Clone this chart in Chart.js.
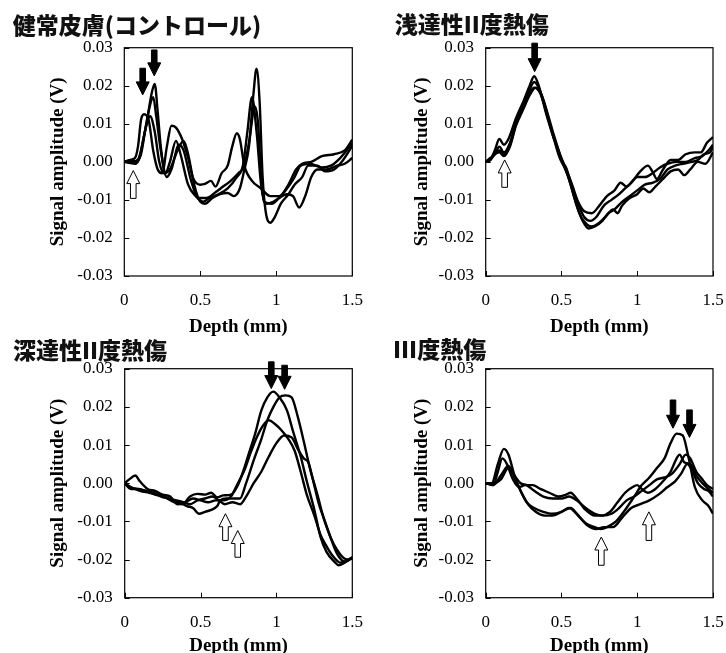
<!DOCTYPE html>
<html>
<head>
<meta charset="utf-8">
<script src="https://cdn.jsdelivr.net/npm/chart.js@4.4.0/dist/chart.umd.min.js"></script>
<style>
html, body { margin: 0; padding: 0; background: #fff; width: 726px; height: 653px; overflow: hidden; }
canvas { position: absolute; }
</style>
</head>
<body>
<canvas id="c1" width="363" height="340" style="left:0px;top:0px"></canvas>
<canvas id="c2" width="363" height="340" style="left:363px;top:0px"></canvas>
<canvas id="c3" width="363" height="340" style="left:0px;top:321px"></canvas>
<canvas id="c4" width="363" height="340" style="left:363px;top:321px"></canvas>
<script>
// tick values shared by all four panels
const depthTicks = [0, 0.5, 1, 1.5]
const ampTicks = [-0.03, -0.02, -0.01, 0, 0.01, 0.02, 0.03]
const panelTitles = ['健常皮膚(コントロール)', '浅達性II度熱傷', '深達性II度熱傷', 'III度熱傷']

// 健常皮膚 (control) : [depth mm, amplitude V]
const ctrlA = [[0,0],[0.05,0.0005],[0.08,0],[0.11,0.003],[0.15,0.011],[0.18,0.018],[0.2,0.0205],[0.22,0.013],[0.24,0.004],[0.27,-0.003],[0.3,0],[0.34,0.0055],[0.37,0.002],[0.42,-0.006],[0.47,-0.009],[0.52,-0.0105],[0.56,-0.0095],[0.62,-0.0085],[0.68,-0.007],[0.74,-0.004],[0.78,-0.001],[0.81,0.008],[0.84,0.017],[0.87,0.008],[0.9,-0.006],[0.93,-0.011],[0.98,-0.0105],[1.03,-0.009],[1.08,-0.006],[1.13,-0.002],[1.17,-0.0005],[1.23,0],[1.3,0.0015],[1.38,0.002],[1.45,0.003],[1.5,0.0058]]
const ctrlB = [[0,0],[0.04,0.0005],[0.07,0.001],[0.09,0.004],[0.11,0.011],[0.13,0.0125],[0.16,0.011],[0.19,0.003],[0.22,-0.002],[0.25,-0.003],[0.28,0.004],[0.31,0.0095],[0.34,0.009],[0.38,0.006],[0.42,0.001],[0.45,-0.004],[0.5,-0.006],[0.53,-0.0058],[0.57,-0.005],[0.6,-0.0065],[0.64,-0.003],[0.68,-0.001],[0.71,0.004],[0.74,0.0075],[0.76,0.006],[0.79,-0.001],[0.84,-0.005],[0.9,-0.007],[0.96,-0.009],[1.02,-0.009],[1.07,-0.007],[1.12,-0.004],[1.16,-0.001],[1.22,-0.0005],[1.3,-0.0015],[1.36,-0.001],[1.42,0.001],[1.5,0.0048]]
const ctrlC = [[0,0],[0.04,-0.0003],[0.07,-0.0005],[0.1,0.001],[0.13,0.007],[0.17,0.012],[0.2,0.008],[0.23,0],[0.26,-0.003],[0.3,-0.002],[0.35,0.003],[0.39,0.0055],[0.42,0.002],[0.46,-0.006],[0.5,-0.0105],[0.53,-0.011],[0.58,-0.0095],[0.63,-0.0085],[0.68,-0.0082],[0.72,-0.009],[0.76,-0.007],[0.79,-0.002],[0.82,0.004],[0.85,0.018],[0.87,0.0245],[0.89,0.016],[0.91,-0.004],[0.93,-0.013],[0.96,-0.016],[0.99,-0.0145],[1.03,-0.011],[1.08,-0.0085],[1.12,-0.006],[1.17,-0.004],[1.21,-0.001],[1.27,-0.001],[1.32,-0.0025],[1.38,-0.002],[1.44,0.0005],[1.5,0.0042]]
const ctrlD = [[0,0],[0.05,0],[0.08,0.0003],[0.11,0.002],[0.14,0.009],[0.17,0.015],[0.19,0.017],[0.21,0.012],[0.24,0.003],[0.28,-0.004],[0.31,-0.002],[0.36,0.0045],[0.39,0.003],[0.44,-0.005],[0.49,-0.0095],[0.54,-0.0095],[0.6,-0.008],[0.65,-0.0065],[0.7,-0.005],[0.75,-0.003],[0.79,-0.001],[0.82,0.005],[0.86,0.0145],[0.88,0.01],[0.9,-0.004],[0.92,-0.0105],[0.97,-0.011],[1.02,-0.0095],[1.07,-0.0085],[1.11,-0.009],[1.15,-0.012],[1.19,-0.009],[1.23,-0.004],[1.27,-0.002],[1.33,-0.002],[1.4,-0.001],[1.45,-0.0005],[1.5,0.001]]

// 浅達性II度熱傷
const sdbA = [[0,0],[0.03,0.0005],[0.06,0.003],[0.09,0.006],[0.12,0.0045],[0.15,0.006],[0.2,0.0115],[0.25,0.016],[0.29,0.02],[0.32,0.0225],[0.35,0.02],[0.4,0.0125],[0.45,0.006],[0.48,0.002],[0.5,0],[0.53,-0.002],[0.57,-0.006],[0.61,-0.0105],[0.65,-0.013],[0.7,-0.0135],[0.75,-0.0115],[0.8,-0.009],[0.85,-0.0075],[0.89,-0.0055],[0.93,-0.0065],[0.97,-0.005],[1.02,-0.0025],[1.07,-0.001],[1.1,-0.0025],[1.13,-0.0045],[1.17,-0.002],[1.22,0.0005],[1.27,0.0005],[1.32,0.002],[1.38,0.0025],[1.42,0.0025],[1.46,0.005],[1.5,0.0065]]
const sdbB = [[0,0],[0.03,0.001],[0.06,0.002],[0.09,0.004],[0.12,0.0025],[0.16,0.005],[0.2,0.0105],[0.24,0.0145],[0.28,0.018],[0.32,0.021],[0.36,0.0185],[0.4,0.013],[0.44,0.0075],[0.47,0.004],[0.5,0.0005],[0.53,-0.0015],[0.57,-0.0065],[0.61,-0.011],[0.65,-0.0145],[0.69,-0.0155],[0.73,-0.0145],[0.78,-0.0115],[0.83,-0.01],[0.88,-0.0085],[0.92,-0.007],[0.96,-0.0055],[1.0,-0.004],[1.05,-0.004],[1.1,-0.003],[1.15,-0.0015],[1.2,-0.0005],[1.26,0],[1.32,0],[1.38,0.001],[1.43,0.0015],[1.47,0.003],[1.5,0.0045]]
const sdbC = [[0,0],[0.03,0.0005],[0.06,0.0025],[0.09,0.003],[0.12,0.002],[0.16,0.0045],[0.2,0.01],[0.25,0.0145],[0.29,0.018],[0.32,0.0195],[0.36,0.018],[0.4,0.0135],[0.44,0.0075],[0.48,0.003],[0.51,-0.0005],[0.55,-0.0045],[0.59,-0.01],[0.63,-0.0145],[0.67,-0.0165],[0.7,-0.017],[0.75,-0.016],[0.8,-0.014],[0.84,-0.0125],[0.87,-0.0135],[0.9,-0.0115],[0.95,-0.0095],[1.0,-0.0085],[1.04,-0.007],[1.08,-0.008],[1.12,-0.0065],[1.17,-0.0045],[1.22,-0.0025],[1.27,-0.002],[1.31,-0.0035],[1.35,-0.002],[1.4,0],[1.45,-0.0005],[1.5,0.0025]]
const sdbD = [[0,0],[0.03,0.0005],[0.06,0.002],[0.09,0.0025],[0.12,0.0015],[0.16,0.004],[0.2,0.0095],[0.25,0.014],[0.29,0.0175],[0.33,0.0195],[0.37,0.0175],[0.41,0.0125],[0.45,0.007],[0.49,0.002],[0.52,-0.001],[0.56,-0.006],[0.6,-0.0115],[0.64,-0.0155],[0.68,-0.0175],[0.72,-0.017],[0.77,-0.0155],[0.81,-0.0135],[0.85,-0.0125],[0.9,-0.0105],[0.95,-0.009],[1.0,-0.0075],[1.05,-0.006],[1.1,-0.0055],[1.15,-0.0045],[1.2,-0.002],[1.25,-0.001],[1.3,-0.0005],[1.36,0],[1.4,0.0005],[1.44,0.002],[1.48,0.0025],[1.5,0.004]]

// 深達性II度熱傷
const ddbA = [[0,0],[0.04,-0.001],[0.1,-0.002],[0.16,-0.0025],[0.22,-0.003],[0.28,-0.004],[0.33,-0.005],[0.38,-0.0055],[0.43,-0.0035],[0.48,-0.0028],[0.53,-0.003],[0.57,-0.0025],[0.61,-0.0037],[0.65,-0.0032],[0.7,-0.003],[0.74,-0.001],[0.78,0.003],[0.82,0.008],[0.86,0.013],[0.9,0.019],[0.94,0.0225],[0.98,0.024],[1.02,0.0225],[1.07,0.019],[1.11,0.0135],[1.16,0.007],[1.2,0.0005],[1.25,-0.007],[1.29,-0.014],[1.33,-0.018],[1.38,-0.0205],[1.41,-0.0215],[1.45,-0.0208],[1.5,-0.0195]]
const ddbB = [[0,0],[0.03,-0.001],[0.08,-0.0015],[0.14,-0.002],[0.2,-0.003],[0.26,-0.0035],[0.31,-0.0045],[0.36,-0.005],[0.41,-0.006],[0.45,-0.0065],[0.49,-0.008],[0.53,-0.0075],[0.57,-0.007],[0.61,-0.006],[0.63,-0.0045],[0.67,-0.004],[0.72,-0.004],[0.76,-0.004],[0.8,0],[0.85,0.006],[0.9,0.0115],[0.94,0.0165],[0.98,0.02],[1.02,0.0225],[1.06,0.023],[1.1,0.0225],[1.14,0.0175],[1.18,0.011],[1.22,0.004],[1.27,-0.003],[1.31,-0.009],[1.35,-0.0135],[1.4,-0.0185],[1.45,-0.0205],[1.5,-0.0195]]
const ddbC = [[0,0],[0.03,0.001],[0.07,0.002],[0.1,0.0005],[0.15,-0.0015],[0.2,-0.002],[0.25,-0.003],[0.3,-0.0035],[0.35,-0.0055],[0.4,-0.005],[0.45,-0.004],[0.5,-0.0045],[0.55,-0.005],[0.6,-0.0045],[0.65,-0.0045],[0.7,-0.0035],[0.74,-0.0005],[0.79,0.0035],[0.83,0.008],[0.87,0.012],[0.91,0.015],[0.95,0.0165],[0.99,0.0155],[1.03,0.014],[1.08,0.0115],[1.12,0.0085],[1.16,0.003],[1.2,-0.003],[1.25,-0.0085],[1.29,-0.0135],[1.33,-0.0165],[1.37,-0.019],[1.42,-0.0208],[1.46,-0.0205],[1.5,-0.0195]]
const ddbD = [[0,0],[0.04,-0.0015],[0.09,-0.0015],[0.14,-0.002],[0.19,-0.0025],[0.24,-0.0035],[0.29,-0.004],[0.34,-0.0045],[0.39,-0.005],[0.43,-0.0055],[0.48,-0.0045],[0.53,-0.004],[0.58,-0.0035],[0.62,-0.0045],[0.66,-0.0055],[0.71,-0.005],[0.76,-0.0055],[0.8,-0.0035],[0.85,0],[0.9,0.003],[0.95,0.007],[1.0,0.0105],[1.05,0.0125],[1.1,0.012],[1.14,0.009],[1.18,0.0065],[1.21,0.0055],[1.24,0.001],[1.28,-0.0055],[1.32,-0.01],[1.36,-0.0145],[1.4,-0.0175],[1.44,-0.0195],[1.47,-0.02],[1.5,-0.0195]]

// III度熱傷
const fullA = [[0,0],[0.04,0],[0.08,0.005],[0.12,0.009],[0.15,0.0075],[0.19,0.002],[0.23,-0.002],[0.27,-0.005],[0.32,-0.0065],[0.38,-0.0075],[0.44,-0.008],[0.5,-0.0075],[0.55,-0.0065],[0.6,-0.008],[0.66,-0.0105],[0.72,-0.0115],[0.76,-0.012],[0.8,-0.0115],[0.86,-0.01],[0.92,-0.007],[0.98,-0.0035],[1.03,-0.0005],[1.08,0.0015],[1.13,0.004],[1.18,0.0065],[1.22,0.0105],[1.26,0.013],[1.3,0.0125],[1.34,0.0065],[1.38,-0.001],[1.43,-0.0045],[1.47,-0.006],[1.5,-0.008]]
const fullB = [[0,0],[0.05,-0.0005],[0.08,0.003],[0.11,0.0065],[0.14,0.005],[0.18,0.001],[0.22,-0.001],[0.26,-0.0005],[0.31,-0.0005],[0.36,-0.0015],[0.42,-0.0025],[0.48,-0.0035],[0.53,-0.003],[0.56,-0.0025],[0.6,-0.004],[0.66,-0.007],[0.72,-0.0085],[0.76,-0.0085],[0.82,-0.0075],[0.87,-0.005],[0.92,-0.0025],[0.97,-0.001],[1.0,-0.0005],[1.03,-0.0015],[1.07,-0.0025],[1.12,-0.0015],[1.17,0.0005],[1.22,0.003],[1.26,0.0065],[1.28,0.0075],[1.31,0.0055],[1.35,0.005],[1.39,0.002],[1.43,0],[1.47,-0.0015],[1.5,-0.0025]]
const fullC = [[0,0],[0.05,0],[0.1,0.001],[0.15,0.004],[0.19,0.002],[0.23,0],[0.27,-0.0005],[0.32,-0.002],[0.38,-0.0035],[0.44,-0.004],[0.5,-0.004],[0.55,-0.0035],[0.6,-0.0045],[0.66,-0.0065],[0.72,-0.008],[0.77,-0.0085],[0.83,-0.008],[0.88,-0.0065],[0.93,-0.0045],[0.98,-0.0035],[1.03,-0.002],[1.08,-0.0005],[1.13,0.001],[1.18,0.0015],[1.23,0.0025],[1.28,0.005],[1.32,0.0075],[1.35,0.0065],[1.39,0.003],[1.42,0.0015],[1.46,-0.0005],[1.5,-0.0015]]
const fullD = [[0,0],[0.05,-0.0005],[0.1,0.002],[0.15,0.0045],[0.19,0.0015],[0.23,-0.002],[0.28,-0.0055],[0.33,-0.0075],[0.39,-0.0085],[0.44,-0.0085],[0.5,-0.0075],[0.56,-0.0065],[0.61,-0.0085],[0.67,-0.011],[0.73,-0.012],[0.78,-0.0115],[0.84,-0.0115],[0.9,-0.009],[0.96,-0.0065],[1.02,-0.0055],[1.08,-0.0045],[1.14,-0.003],[1.2,-0.001],[1.25,0.0005],[1.29,0.0025],[1.33,0.005],[1.36,0.0035],[1.4,0],[1.44,-0.0015],[1.47,-0.002],[1.5,-0.0035]]

// arrows: [depth, tail amplitude, tip amplitude]
const ctrlDown = [[0.121, 0.0246, 0.0176], [0.197, 0.0294, 0.0226]]
const ctrlUp = [[0.059, -0.0096, -0.0023]]
const sdbDown = [[0.323, 0.0312, 0.0237]]
const sdbUp = [[0.125, -0.0067, 0.0005]]
const ddbDown = [[0.966, 0.0318, 0.0248], [1.054, 0.0309, 0.0246]]
const ddbUp = [[0.664, -0.015, -0.008], [0.745, -0.0194, -0.0124]]
const fullDown = [[1.236, 0.0218, 0.0144], [1.345, 0.0192, 0.012]]
const fullUp = [[0.763, -0.0215, -0.0141], [1.077, -0.015, -0.0075]]

const serif = "'Liberation Serif', 'Times New Roman', serif"

// layout of each panel inside its canvas
const panels = [
  { id: 'c1', series: [ctrlA, ctrlB, ctrlC, ctrlD], down: ctrlDown, up: ctrlUp, padL: 12.7, padR: 10.7, yW: 111.6, tPad: [11.2, 8.9], xH: 64, xtPad: 1.8, ytPad: 33.9, tickPad: 11.6 },
  { id: 'c2', series: [sdbA, sdbB, sdbC, sdbD], down: sdbDown, up: sdbUp, padL: 31.7, padR: 13, yW: 91, tPad: [10.2, 9.9], xH: 64, xtPad: 1.8, ytPad: 15.9, tickPad: 11.7 },
  { id: 'c3', series: [ddbA, ddbB, ddbC, ddbD], down: ddbDown, up: ddbUp, padL: 13, padR: 10.7, yW: 111.7, tPad: [15.2, 4.9], xH: 63.3, xtPad: 3.3, ytPad: 33.6, tickPad: 12 },
  { id: 'c4', series: [fullA, fullB, fullC, fullD], down: fullDown, up: fullUp, padL: 30, padR: 13, yW: 92.7, tPad: [14.2, 5.9], xH: 63.3, xtPad: 3.3, ytPad: 17.6, tickPad: 11.7 }
]

function arrow(ctx, px, tail, tip, fill) {
  const dir = tip > tail ? 1 : -1
  const head = 13, hw = 6.5, sw = 2.8
  const neck = tip - dir * head
  ctx.beginPath()
  ctx.moveTo(px - sw, tail)
  ctx.lineTo(px - sw, neck)
  ctx.lineTo(px - hw, neck)
  ctx.lineTo(px, tip)
  ctx.lineTo(px + hw, neck)
  ctx.lineTo(px + sw, neck)
  ctx.lineTo(px + sw, tail)
  ctx.closePath()
  ctx.fillStyle = fill
  ctx.fill()
  ctx.lineWidth = 1
  ctx.strokeStyle = '#000'
  ctx.stroke()
}

const framePlugin = {
  id: 'frame',
  afterDraw(chart, args, opts) {
    const { ctx, chartArea: a, scales: { x, y } } = chart
    ctx.save()
    ctx.strokeStyle = '#000'
    ctx.lineWidth = 1.2
    ctx.strokeRect(a.left, a.top, a.right - a.left, a.bottom - a.top)
    ctx.beginPath()
    ampTicks.forEach(v => {
      const py = Math.round(y.getPixelForValue(v)) + 0.5
      ctx.moveTo(a.left, py); ctx.lineTo(a.left + 5, py)
    })
    depthTicks.forEach(v => {
      const px = Math.round(x.getPixelForValue(v)) + 0.5
      ctx.moveTo(px, a.bottom); ctx.lineTo(px, a.bottom - 5)
    })
    ctx.lineWidth = 1
    ctx.stroke()
    opts.down.forEach(d => arrow(ctx, x.getPixelForValue(d[0]), y.getPixelForValue(d[1]), y.getPixelForValue(d[2]), '#000'))
    opts.up.forEach(d => arrow(ctx, x.getPixelForValue(d[0]), y.getPixelForValue(d[1]), y.getPixelForValue(d[2]), '#fff'))
    ctx.restore()
  }
}

panels.forEach((p, i) => {
  new Chart(document.getElementById(p.id), {
    type: 'line',
    data: {
      datasets: p.series.map(s => ({
        data: s.map(d => ({ x: d[0], y: d[1] })),
        borderColor: '#000',
        borderWidth: 2.4,
        pointRadius: 0,
        fill: false,
        cubicInterpolationMode: 'monotone'
      }))
    },
    options: {
      responsive: false,
      animation: false,
      events: [],
      layout: { autoPadding: false, padding: { left: p.padL, right: p.padR, top: 0, bottom: 0 } },
      plugins: {
        legend: { display: false },
        tooltip: { enabled: false },
        title: {
          display: true,
          text: panelTitles[i],
          align: 'start',
          color: '#111',
          font: { family: "'Noto Sans CJK JP', sans-serif", size: 23, weight: '900', lineHeight: 1.2 },
          padding: { top: p.tPad[0], bottom: p.tPad[1] }
        },
        frame: { down: p.down, up: p.up }
      },
      scales: {
        x: {
          type: 'linear',
          min: 0, max: 1.5,
          grid: { display: false, drawTicks: false },
          border: { display: false },
          afterFit: s => { s.height = p.xH; s.paddingLeft = 0; s.paddingRight = 0 },
          afterBuildTicks: s => { s.ticks = depthTicks.map(v => ({ value: v })) },
          ticks: {
            padding: 14.5,
            color: '#000',
            maxRotation: 0,
            font: { family: serif, size: 17, lineHeight: 1.2 },
            callback: v => String(v)
          },
          title: {
            display: true,
            text: 'Depth (mm)',
            color: '#000',
            font: { family: serif, size: 19, weight: 'bold', lineHeight: 1.2 },
            padding: { top: 0, bottom: p.xtPad }
          }
        },
        y: {
          type: 'linear',
          min: -0.03, max: 0.03,
          grid: { display: false, drawTicks: false },
          border: { display: false },
          afterFit: s => { s.width = p.yW; s.paddingTop = 0; s.paddingBottom = 0 },
          afterBuildTicks: s => { s.ticks = ampTicks.map(v => ({ value: v })) },
          ticks: {
            padding: p.tickPad,
            color: '#000',
            font: { family: serif, size: 17, lineHeight: 1.2 },
            callback: v => (Math.abs(v) < 1e-9 ? 0 : v).toFixed(2)
          },
          title: {
            display: true,
            text: 'Signal amplitude (V)',
            color: '#000',
            font: { family: serif, size: 19, weight: 'bold', lineHeight: 1.2 },
            padding: { top: p.ytPad, bottom: 0 }
          }
        }
      }
    },
    plugins: [framePlugin]
  })
})
</script>
</body>
</html>
